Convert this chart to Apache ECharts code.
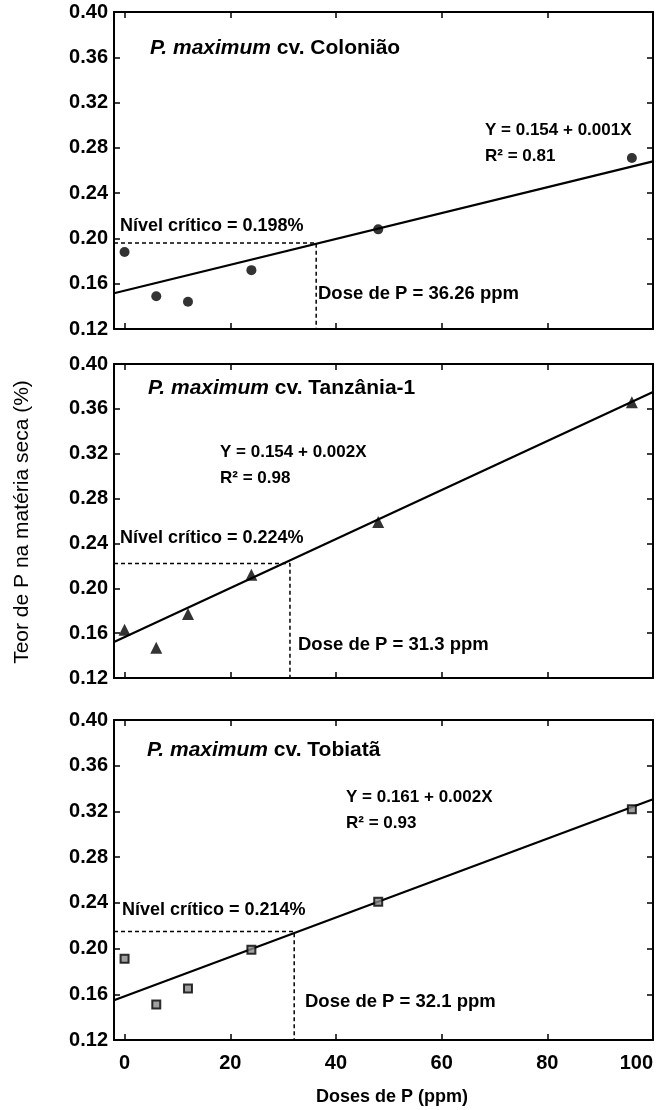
<!DOCTYPE html>
<html>
<head>
<meta charset="utf-8">
<script src="https://cdn.jsdelivr.net/npm/echarts@6/dist/echarts.min.js"></script>
<style>
html,body{margin:0;padding:0;background:#fff;}
#c{width:659px;height:1110px;}
</style>
</head>
<body>
<div id="c"></div>
<script>
// ---- data ----
const doses = [0, 6, 12, 24, 48, 96];
const colonia = [0.188, 0.149, 0.144, 0.172, 0.208, 0.271];
const tanzania = [0.163, 0.147, 0.177, 0.212, 0.259, 0.366];
const tobiata = [0.191, 0.151, 0.165, 0.199, 0.241, 0.322];
const fitX = [-2, 100];
const fitColonia = [0.1516, 0.268];
const fitTanzania = [0.152, 0.375];
const fitTobiata = [0.1547, 0.3306];
const critDose = [36.26, 31.3, 32.1];
const critLevel = [0.196, 0.222, 0.215];
const xTickValues = [0, 20, 40, 60, 80, 100];
const panelTitles = ['Colonião', 'Tanzânia-1', 'Tobiatã'];
const equations = ['Y = 0.154 + 0.001X', 'Y = 0.154 + 0.002X', 'Y = 0.161 + 0.002X'];
const r2Texts = ['R² = 0.81', 'R² = 0.98', 'R² = 0.93'];
const critTexts = ['Nível crítico = 0.198%', 'Nível crítico = 0.224%', 'Nível crítico = 0.214%'];
const doseTexts = ['Dose de P = 36.26 ppm', 'Dose de P = 31.3 ppm', 'Dose de P = 32.1 ppm'];

const FONT = '"Liberation Sans", Arial, Helvetica, sans-serif';
const X_MIN = -2, X_MAX = 100;
const grids = [
  {left: 114, top: 12, width: 539, height: 317},
  {left: 114, top: 364, width: 539, height: 314},
  {left: 114, top: 720, width: 539, height: 320}
];
const seriesData = [colonia, tanzania, tobiata];
const fits = [fitColonia, fitTanzania, fitTobiata];
const symbols = ['circle', 'triangle', 'rect'];

const lineStyleAxis = {color: '#000', width: 2};
const xAxes = [], yAxes = [], series = [];
grids.forEach((g, i) => {
  const last = i === 2;
  xAxes.push({
    type: 'value', gridIndex: i, position: 'bottom', min: X_MIN, max: X_MAX,
    axisLine: {show: true, onZero: false, lineStyle: lineStyleAxis},
    axisTick: {show: true, inside: true, length: 6, customValues: xTickValues, lineStyle: {color: '#000', width: 1.5}},
    axisLabel: {show: last, customValues: xTickValues, alignMaxLabel: 'right', margin: 13,
      fontFamily: FONT, fontSize: 20, fontWeight: 'bold', color: '#000'},
    splitLine: {show: false}
  });
  xAxes.push({
    type: 'value', gridIndex: i, position: 'top', min: X_MIN, max: X_MAX,
    axisLine: {show: true, onZero: false, lineStyle: lineStyleAxis},
    axisTick: {show: true, inside: true, length: 6, customValues: xTickValues, lineStyle: {color: '#000', width: 1.5}},
    axisLabel: {show: false}, splitLine: {show: false}
  });
  yAxes.push({
    type: 'value', gridIndex: i, position: 'left', min: 0.12, max: 0.40, interval: 0.04,
    axisLine: {show: true, onZero: false, lineStyle: lineStyleAxis},
    axisTick: {show: true, inside: true, length: 6, lineStyle: {color: '#000', width: 1.5}},
    axisLabel: {margin: 6, fontFamily: FONT, fontSize: 20, fontWeight: 'bold', color: '#000',
      formatter: v => v.toFixed(2)},
    splitLine: {show: false}
  });
  yAxes.push({
    type: 'value', gridIndex: i, position: 'right', min: 0.12, max: 0.40, interval: 0.04,
    axisLine: {show: true, onZero: false, lineStyle: lineStyleAxis},
    axisTick: {show: true, inside: true, length: 6, lineStyle: {color: '#000', width: 1.5}},
    axisLabel: {show: false}, splitLine: {show: false}
  });
  const xi = i * 2, yi = i * 2;
  // regression line
  series.push({
    type: 'line', xAxisIndex: xi, yAxisIndex: yi, symbol: 'none', silent: true,
    data: fitX.map((x, k) => [x, fits[i][k]]),
    lineStyle: {color: '#000', width: 2.2}, z: 2
  });
  // critical dashed lines
  series.push({
    type: 'line', xAxisIndex: xi, yAxisIndex: yi, symbol: 'none', silent: true,
    data: [[X_MIN, critLevel[i]], [critDose[i], critLevel[i]], [critDose[i], 0.12]],
    lineStyle: {color: '#000', width: 1.5, type: [4, 3]}, z: 1
  });
  // points
  const sym = symbols[i];
  series.push({
    type: 'scatter', xAxisIndex: xi, yAxisIndex: yi, symbol: sym,
    symbolSize: sym === 'circle' ? 10 : (sym === 'triangle' ? [12, 12] : 8),
    data: doses.map((d, k) => [d, seriesData[i][k]]),
    itemStyle: sym === 'rect'
      ? {color: '#888', borderColor: '#000', borderWidth: 2}
      : {color: '#000'},
    z: 3
  });
});

function txt(x, y, text, opts) {
  return {
    type: 'text', x: x, y: y, silent: true,
    style: Object.assign({text: text, fontFamily: FONT, fontSize: 18, fontWeight: 'bold', fill: '#000',
      textAlign: 'left', textVerticalAlign: 'middle'}, opts || {})
  };
}
const titlePos = [[150, 48], [148, 388], [147, 750]];
const eqPos = [[485, 130], [220, 452], [346, 797]];
const critPos = [[120, 226], [120, 538], [122, 910]];
const dosePos = [[318, 294], [298, 645], [305, 1002]];
const graphics = [];
for (let i = 0; i < 3; i++) {
  graphics.push(txt(titlePos[i][0], titlePos[i][1], '{i|P. maximum} cv. ' + panelTitles[i], {
    fontWeight: 'bold', fontSize: 21,
    rich: {i: {fontStyle: 'italic', fontWeight: 'bold', fontSize: 21, fontFamily: FONT}}
  }));
  graphics.push(txt(eqPos[i][0], eqPos[i][1], equations[i], {fontSize: 17}));
  graphics.push(txt(eqPos[i][0], eqPos[i][1] + 26, r2Texts[i], {fontSize: 17}));
  graphics.push(txt(critPos[i][0], critPos[i][1], critTexts[i]));
  graphics.push(txt(dosePos[i][0], dosePos[i][1], doseTexts[i], {fontSize: 18.5}));
}
graphics.push(txt(392, 1097, 'Doses de P (ppm)', {textAlign: 'center', fontSize: 18}));
graphics.push({
  type: 'text', x: 22, y: 522, rotation: Math.PI / 2, silent: true,
  style: {text: 'Teor de P na matéria seca (%)', fontFamily: FONT, fontSize: 21, fill: '#000',
    textAlign: 'center', textVerticalAlign: 'middle'}
});

const chart = echarts.init(document.getElementById('c'), null, {renderer: 'canvas'});
chart.setOption({
  backgroundColor: '#fff',
  animation: false,
  grid: grids,
  xAxis: xAxes,
  yAxis: yAxes,
  series: series,
  graphic: graphics
});
</script>
</body>
</html>
